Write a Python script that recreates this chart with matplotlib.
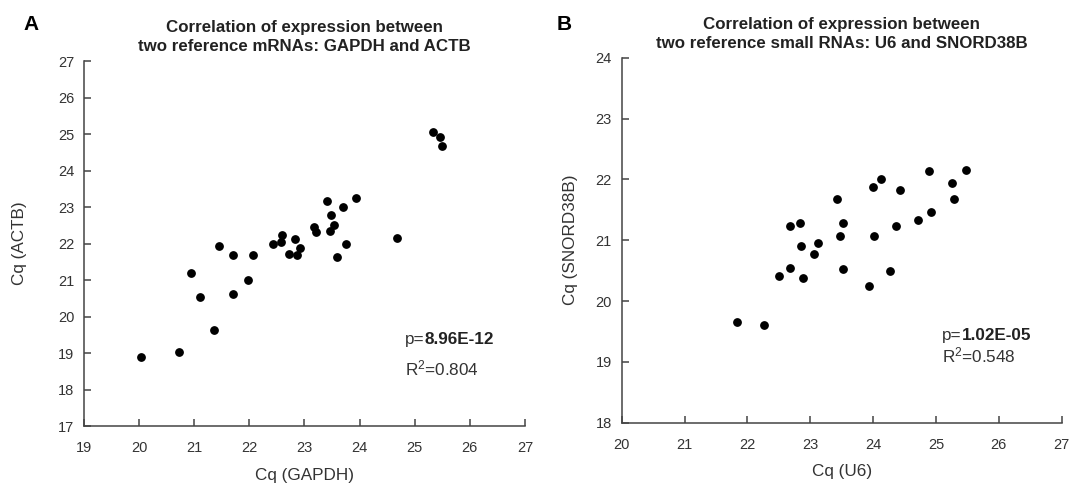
import numpy as np
import matplotlib
matplotlib.use("Agg")
import matplotlib.pyplot as plt

plt.rcParams['font.family'] = ['Liberation Sans', 'DejaVu Sans']
plt.rcParams['mathtext.fontset'] = 'custom'
plt.rcParams['mathtext.rm'] = 'Liberation Sans'
plt.rcParams['mathtext.it'] = 'Liberation Sans:italic'
plt.rcParams['mathtext.bf'] = 'Liberation Sans:bold'

# panel A: GAPDH vs ACTB
gapdh = [20.03, 20.73, 20.95, 21.10, 21.36, 21.45, 21.70, 21.71, 21.98, 22.06,
         22.43, 22.59, 22.58, 22.72, 22.83, 22.87, 22.92, 23.17, 23.21, 23.40,
         23.48, 23.47, 23.54, 23.59, 23.69, 23.75, 23.93, 24.68, 25.33, 25.45, 25.50]
actb = [18.88, 19.03, 21.20, 20.53, 19.62, 21.92, 21.68, 20.61, 21.00, 21.69,
        21.98, 22.22, 22.05, 21.70, 22.12, 21.68, 21.88, 22.46, 22.31, 23.17,
        22.78, 22.35, 22.51, 21.62, 23.01, 22.00, 23.26, 22.15, 25.06, 24.93, 24.68]

# panel B: U6 vs SNORD38B
u6 = [21.83, 22.27, 22.51, 22.68, 22.67, 22.83, 22.85, 22.89, 23.06, 23.12,
      23.43, 23.47, 23.52, 23.52, 23.93, 24.00, 24.02, 24.12, 24.27, 24.37,
      24.43, 24.72, 24.89, 24.92, 25.25, 25.28, 25.48]
snord = [19.66, 19.61, 20.41, 20.55, 21.24, 21.28, 20.90, 20.38, 20.77, 20.96,
         21.67, 21.07, 21.29, 20.52, 20.25, 21.87, 21.07, 22.01, 20.49, 21.24,
         21.82, 21.33, 22.13, 21.46, 21.94, 21.68, 22.15]

fig = plt.figure(figsize=(10.71, 4.83), dpi=100)
axA = fig.add_axes([0.0784, 0.118, 0.4118, 0.7557])
axB = fig.add_axes([0.5805, 0.1248, 0.4108, 0.7557])

panels = [
    (axA, gapdh, actb, (19, 27), (17, 27), "Cq (GAPDH)", "Cq (ACTB)",
     "Correlation of expression between\ntwo reference mRNAs: GAPDH and ACTB",
     "8.96E-12", "0.804", (24.83, 19.38), (24.83, 18.59), 22),
    (axB, u6, snord, (20, 27), (18, 24), "Cq (U6)", "Cq (SNORD38B)",
     "Correlation of expression between\ntwo reference small RNAs: U6 and SNORD38B",
     "1.02E-05", "0.548", (25.1, 19.44), (25.1, 19.10), 13),
]

for ax, xs, ys, xl, yl, xlab, ylab, title, pval, r2, ppos, rpos, ypad in panels:
    ax.scatter(xs, ys, s=28, color='black', zorder=3)
    ax.set_xlim(*xl)
    ax.set_ylim(*yl)
    ax.set_xticks(np.arange(xl[0], xl[1] + 1))
    ax.set_yticks(np.arange(yl[0], yl[1] + 1))
    for s in ['top', 'right']:
        ax.spines[s].set_visible(False)
    for s in ['left', 'bottom']:
        ax.spines[s].set_color('#444444')
        ax.spines[s].set_linewidth(1.1)
    ax.tick_params(direction='in', length=5, width=1.1, color='#444444',
                   labelsize=10.5, labelcolor='#333333')
    ax.tick_params(axis='x', pad=11)
    ax.tick_params(axis='y', pad=7)
    ax.set_xlabel(xlab, fontsize=12.3, color='#333333', labelpad=9)
    ax.set_ylabel(ylab, fontsize=12.3, color='#333333', labelpad=ypad)
    ax.set_title(title, fontsize=12.2, fontweight='bold', color='#222222',
                 pad=7, linespacing=1.35)
    t = ax.text(ppos[0], ppos[1], "p=", fontsize=12.3, color='#333333', va='center')
    ax.annotate(pval, xy=(1, 0.5), xycoords=t, va='center', ha='left',
                fontsize=12.3, fontweight='bold', color='#222222')
    ax.text(rpos[0], rpos[1], "R$^2$=" + r2, fontsize=12.3, color='#333333', va='center')

fig.text(0.0215, 0.949, "A", fontsize=15, fontweight='bold', ha='left', va='center')
fig.text(0.520, 0.949, "B", fontsize=15, fontweight='bold', ha='left', va='center')

fig.savefig("out.png", dpi=100)
